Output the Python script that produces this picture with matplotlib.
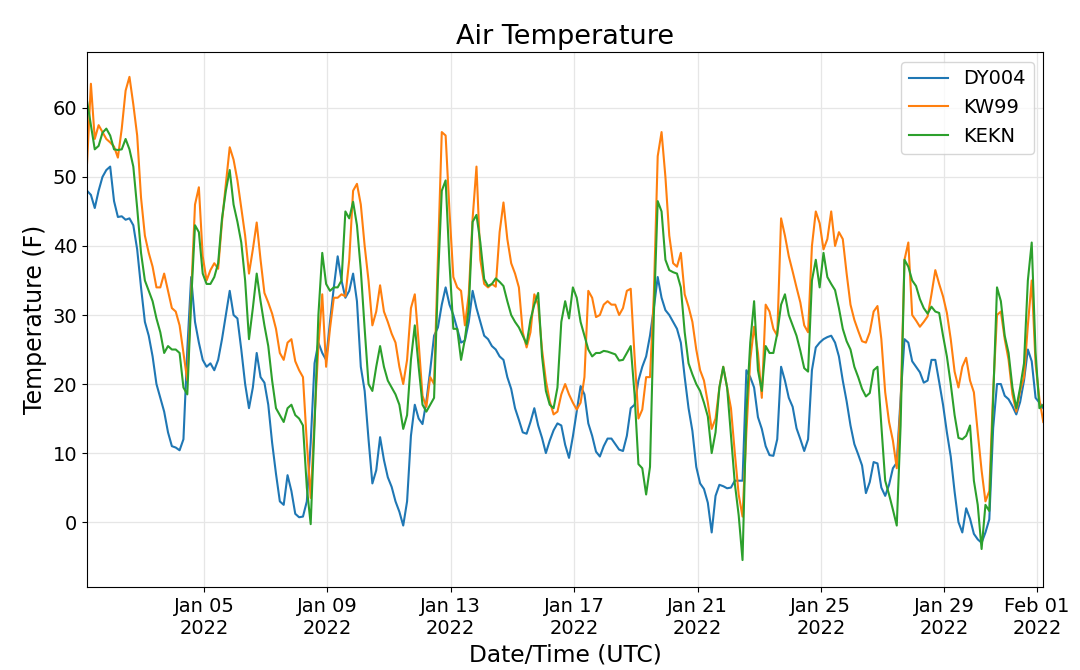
"""
Air temperature at three stations, January 2022 (3-hourly readings)
"""
import matplotlib
matplotlib.use("Agg")
import matplotlib.pyplot as plt
import matplotlib.dates as mdates
import pandas as pd

# ============= DATA =============
# one reading every 3 hours, starting 2022-01-01 05:00 UTC
START = "2022-01-01 05:00"
STEP = "3h"

dy004 = [
    48, 47.4, 45.5, 48.0, 50.0, 51.0, 51.5, 46.5, 44.2, 44.3, 43.8, 44.0, 43.0, 39.5, 34.0, 29.0,
    27.0, 24.0, 20.0, 18.0, 16.0, 13.0, 11.0, 10.8, 10.4, 12.0, 25.0, 35.5, 29.0, 26.0, 23.5, 22.5,
    23.0, 22.0, 23.5, 26.5, 30.0, 33.5, 30.0, 29.5, 25.0, 20.0, 16.5, 19.5, 24.5, 21.0, 20.2, 17.0,
    11.5, 7.0, 3.0,
    2.5, 6.8, 4.5, 1.2, 0.7, 0.8, 3, 11.5, 23, 26, 24.5, 23.5, 29, 34, 38.5, 35, 32.5, 33.5, 36, 32,
    22.5, 19, 12, 5.6, 7.5, 12.3, 9, 6.5, 5.1, 3, 1.5, -0.5, 3, 12.5, 17, 15, 14.2, 17.5, 22, 27,
    28.2, 31.5, 34, 31.5, 30, 28, 26, 26.3, 29, 33.5, 31,
    29, 27, 26.5, 25.5, 25, 24, 23.5, 21, 19.3, 16.5, 14.8, 13, 12.8, 14.5, 16.5, 14, 12.2, 10, 11.8,
    13.3, 14.3, 14, 11.2, 9.3, 12.4, 16, 19.7, 18.5, 14.3, 12.5, 10.2, 9.5, 11, 12.1, 12.1, 11.3,
    10.5, 10.3, 12.5, 16.5, 17, 20.5, 22.5, 24, 27, 31, 35.5, 32.5, 30.7, 30, 29,
    28, 26, 21, 16.5, 13.2, 8, 5.6, 4.8, 2.8, -1.5, 3.8, 5.4, 5.2, 4.9, 5, 6, 6, 6, 22, 21, 19.5,
    15.2, 13.5, 11, 9.7, 9.6, 12, 22.5, 20.5, 18, 16.7, 13.6, 12, 10.3, 12, 22, 25.3, 26, 26.5,
    26.8, 27, 26, 24, 20.5, 17.5, 14, 11.3, 9.8, 8.2,
    4.2, 5.8, 8.7, 8.5, 5, 3.8, 5.4, 7.8, 8.6, 18, 26.5, 26, 23.3, 22.5, 21.7, 20.2, 20.5, 23.5,
    23.5, 20.3, 17, 13, 9.5, 4.4, 0, -1.5, 2, 0.5, -1.7, -2.5, -3, -1.5, 0.4, 13.6, 20, 20, 18.3,
    17.8, 16.8, 15.6, 17.4, 20.5, 25, 23.3, 18, 17.3, 16.5,
]

kw99 = [
    52, 63.5, 55.5, 57.5, 56.5, 55.5, 55, 54.4, 52.8, 57, 62.5, 64.5, 60.5, 56, 47, 41.5, 39, 37,
    34, 34, 36, 33.5, 31, 30.5, 28.5, 24.5, 20.5, 33, 46, 48.5, 38.5, 35, 36.5, 37.5, 36.7, 43.5,
    49, 54.3, 52.5, 49.5, 45.5, 41.5, 36, 39.5, 43.4, 38, 33.2, 31.8, 30.2, 28, 24.5,
    23.5, 26, 26.5, 23.3, 22, 21, 11.5, 3.5, 15, 25.5, 33, 22.5, 28, 32.5, 32.5, 33, 32.7, 38, 48,
    49, 46, 40, 35, 28.5, 30.5, 34.3, 30.5, 29, 27.3, 26, 22.5, 20, 23.5, 31, 33, 26, 18.3, 16.7,
    21, 20, 38.5, 56.5, 56, 45, 35.5, 34, 33.5, 28.5, 33, 44, 51.5,
    38, 34.5, 34, 34.5, 34.1, 42, 46.3, 41, 37.5, 36, 34, 27.5, 25.3, 27.5, 33, 31.5, 25, 20.5,
    17.5, 15.6, 16, 18.5, 20, 18.5, 17.3, 16.3, 17.3, 21, 33.5, 32.5, 29.7, 30, 31.5, 32, 31.5,
    31.5, 30, 31, 33.5, 33.8, 24, 15, 16.3, 21, 21, 33, 53, 56.5, 50, 41.5, 37.5,
    37, 39, 33, 31.2, 29, 25, 22, 20.5, 17.3, 13.5, 15, 19.5, 22.5, 19.5, 16.5, 10, 4, 0.8, 13,
    23.5, 28.3, 24.5, 18, 31.5, 30.5, 28, 27, 44, 41.5, 38.5, 36.3, 34, 31.8, 28.5, 27.5, 40, 45,
    43.3, 39.5, 41, 45, 40, 42, 41, 36, 31.5, 29.3, 27.7, 26.2,
    26, 27.5, 30.5, 31.3, 26.5, 18.8, 14.5, 11.8, 7.8, 17, 38, 40.5, 30, 29.2, 28.3, 29, 29.8, 33,
    36.5, 34.5, 32.7, 30.3, 26.5, 21.8, 19.5, 22.5, 23.8, 20.5, 18.8, 13, 7.5, 3, 4.5, 19, 30,
    30.5, 26.5, 23.5, 18.5, 16, 19, 21, 28.5, 35, 23, 17.8, 14.5,
]

kekn = [
    61, 57.5, 54, 54.5, 56.4, 57, 56, 54, 53.9, 54, 55.5, 54, 51.5, 45.5, 39, 35, 33.5, 32, 29.5,
    27.5, 24.5, 25.5, 25, 25, 24.5, 19.5, 18.5, 32, 43, 42, 36, 34.5, 34.5, 35.5, 37.5, 44, 48, 51,
    46, 43.5, 40.5, 35, 26.5, 31, 36, 32, 28.5, 25.5, 20.5, 16.5, 15.5,
    14.5, 16.5, 17, 15.5, 15, 14, 5, -0.3, 14, 30, 39, 34.5, 33.5, 34, 34, 35, 45, 44, 46.4, 43,
    36.5, 28, 20, 19, 22.5, 25.5, 22.5, 20.5, 19.5, 18.5, 17, 13.5, 15.5, 23.5, 28.5, 22.5, 17, 16,
    17, 18, 35, 48, 49.5, 37.5, 28, 28, 23.5, 26.5, 31, 43.5, 44.5,
    40.5, 35.2, 34.2, 34.5, 35.3, 34.8, 34.2, 32, 30, 29, 28.2, 27, 25.8, 29.3, 31.5, 33.2, 24, 19,
    17, 16.5, 19.5, 29, 32, 29.5, 34, 32.5, 29, 27, 25, 24, 24.5, 24.5, 24.8, 24.7, 24.5, 24.3,
    23.4, 23.5, 24.5, 25.5, 18.5, 8.4, 7.8, 4, 8, 30, 46.5, 45, 38, 36.5, 36.2,
    36, 34, 27.5, 23, 21.4, 20, 19, 17.3, 15.3, 10, 13, 19.5, 22.5, 19.5, 12.5, 5.6, 1, -5.5, 16,
    26, 32, 22, 19, 25.5, 24.5, 24.5, 27.3, 31.5, 33, 30, 28.5, 27, 24.8, 22.3, 21.8, 35, 38, 34,
    39, 35.5, 34.5, 33.6, 31, 28, 26.2, 25, 22.5, 21, 19.3,
    18.2, 18.7, 22, 22.5, 14, 6, 4, 1.8, -0.5, 14, 38, 37, 35, 34.2, 32.3, 31, 30.2, 31.2, 30.5,
    30.3, 27, 24, 20, 15.5, 12.2, 12, 12.5, 14, 6, 2.5, -3.9, 2.5, 1.6, 18, 34, 32, 27, 24.5, 19.5,
    16.5, 19.5, 23, 35, 40.5, 24.5, 16.5, 17,
]

stations = ["DY004", "KW99", "KEKN"]

times = pd.date_range(START, periods=len(dy004), freq=STEP)
df = pd.DataFrame({"DY004": dy004, "KW99": kw99, "KEKN": kekn}, index=times)

# ============= PLOT =============
fig, ax = plt.subplots(figsize=(10.8, 6.7), dpi=100)
fig.subplots_adjust(left=0.0806, right=0.966, top=0.9224, bottom=0.1239)

for name in stations:
    ax.plot(df.index, df[name], label=name, linewidth=1.5)

ax.set_xlim(df.index[0], df.index[-1])
ax.set_ylim(-9.4, 68.1)

ax.xaxis.set_major_locator(mdates.DayLocator(bymonthday=[1, 5, 9, 13, 17, 21, 25, 29]))
ax.xaxis.set_major_formatter(mdates.DateFormatter("%b %d\n%Y"))
ax.tick_params(labelsize=14)

ax.grid(True, color="0.9", linewidth=0.9)
ax.set_axisbelow(True)

ax.set_title("Air Temperature", fontsize=19.5)
ax.set_xlabel("Date/Time (UTC)", fontsize=16.8)
ax.set_ylabel("Temperature (F)", fontsize=17)
ax.legend(loc="upper right", fontsize=14)

fig.savefig("out.png", dpi=100)
